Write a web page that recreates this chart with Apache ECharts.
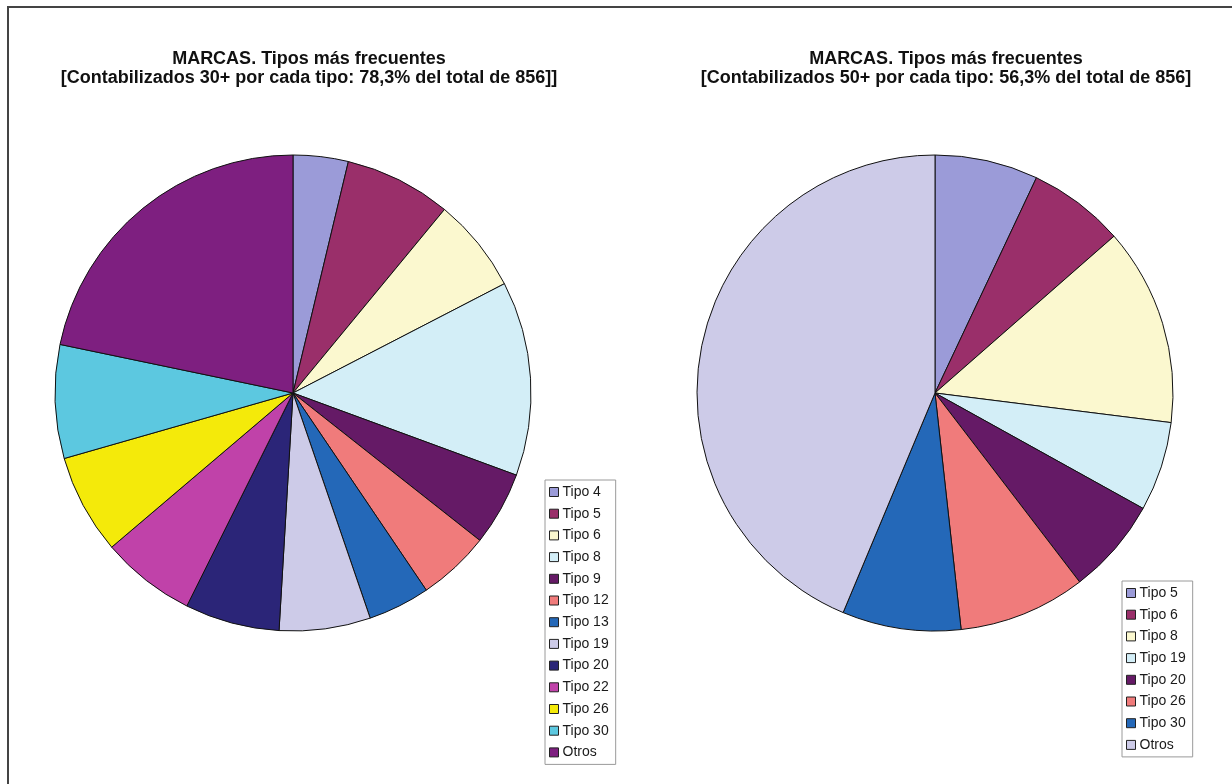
<!DOCTYPE html>
<html>
<head>
<meta charset="utf-8">
<title>MARCAS. Tipos más frecuentes</title>
<script src="https://cdn.jsdelivr.net/npm/echarts@6/dist/echarts.min.js"></script>
<style>
  html, body { margin: 0; padding: 0; background: #fff; }
  #chart { width: 1232px; height: 784px; }
</style>
</head>
<body>
<div id="chart"></div>
<script>
// left pie: types with 30+ marks (total 856)
const leftNames = ['Tipo 4', 'Tipo 5', 'Tipo 6', 'Tipo 8', 'Tipo 9', 'Tipo 12', 'Tipo 13',
  'Tipo 19', 'Tipo 20', 'Tipo 22', 'Tipo 26', 'Tipo 30', 'Otros']
const leftValues = [32, 62, 55, 113, 43, 42, 36, 53, 55, 55, 58, 66, 186]
const leftColors = ['#9b9bd8', '#9a2f6a', '#fbf8cf', '#d3eef7', '#651a66', '#f07b7b', '#2468b8',
  '#cdcbe8', '#2b2578', '#c042a9', '#f4ea0a', '#5cc8e0', '#7e1f80']

// right pie: types with 50+ marks (total 856)
const rightNames = ['Tipo 5', 'Tipo 6', 'Tipo 8', 'Tipo 19', 'Tipo 20', 'Tipo 26', 'Tipo 30', 'Otros']
const rightValues = [60, 56, 115, 52, 56, 74, 69, 374]
const rightColors = ['#9b9bd8', '#9a2f6a', '#fbf8cf', '#d3eef7', '#651a66', '#f07b7b', '#2468b8', '#cdcbe8']

const leftTitle = 'MARCAS. Tipos más frecuentes\n[Contabilizados 30+ por cada tipo: 78,3% del total de 856]]'
const rightTitle = 'MARCAS. Tipos más frecuentes\n[Contabilizados 50+ por cada tipo: 56,3% del total de 856]'

const FONT = '"Liberation Sans", Arial, sans-serif'

const chart = echarts.init(document.getElementById('chart'))

const makeData = (names, values, colors) =>
  names.map((name, i) => ({ name, value: values[i], itemStyle: { color: colors[i] } }))

const makeLegend = (names, colors, left, top) => ({
  orient: 'vertical',
  left,
  top,
  padding: [5, 7, 5, 4],
  itemWidth: 9,
  itemHeight: 9,
  itemGap: 7.7,
  icon: 'rect',
  borderColor: '#9a9a9a',
  borderWidth: 1,
  selectedMode: false,
  textStyle: { fontFamily: FONT, fontSize: 14, color: '#1a1a1a', lineHeight: 14, padding: [0, 0, 0, -1] },
  data: names.map((name, i) => ({
    name,
    itemStyle: { color: colors[i], borderColor: '#222', borderWidth: 1 }
  }))
})

const makePie = (name, data, cx) => ({
  name,
  type: 'pie',
  center: [cx, 393],
  radius: 238,
  startAngle: 90,
  clockwise: true,
  label: { show: false },
  labelLine: { show: false },
  emphasis: { disabled: true },
  animation: false,
  itemStyle: { borderColor: '#111', borderWidth: 1 },
  data
})

const titleStyle = { fontFamily: FONT, fontSize: 18, fontWeight: 'bold', color: '#111', lineHeight: 19 }

const option = {
  backgroundColor: '#ffffff',
  animation: false,
  title: [
    { text: leftTitle, left: 304, top: 45, textAlign: 'center', textStyle: titleStyle },
    { text: rightTitle, left: 941, top: 45, textAlign: 'center', textStyle: titleStyle }
  ],
  legend: [
    makeLegend(leftNames, leftColors, 545, 480),
    makeLegend(rightNames, rightColors, 1122, 581)
  ],
  graphic: [
    {
      type: 'rect',
      shape: { x: 8, y: 7, width: 1400, height: 1000 },
      style: { fill: 'none', stroke: '#444', lineWidth: 2 },
      silent: true
    }
  ],
  series: [
    makePie('Tipos 30+', makeData(leftNames, leftValues, leftColors), 293),
    makePie('Tipos 50+', makeData(rightNames, rightValues, rightColors), 935)
  ]
}

chart.setOption(option)
</script>
</body>
</html>
